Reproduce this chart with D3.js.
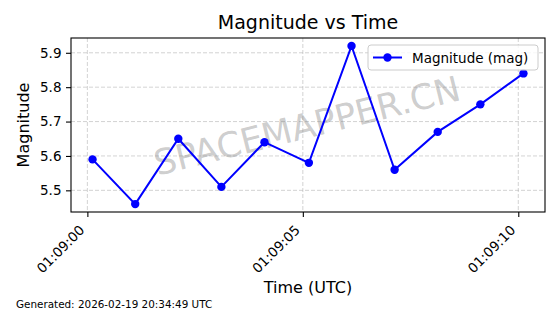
<!DOCTYPE html>
<html>
<head>
<meta charset="utf-8">
<script src="https://cdn.jsdelivr.net/npm/d3@7"></script>
<style>
  body { margin: 0; background: #fff; }
  text { font-family: "DejaVu Sans", sans-serif; }
</style>
</head>
<body>
<div id="chart"></div>
<script>
const WIDTH = 560;
const HEIGHT = 314;
const M = { left: 71, right: 15, top: 38, bottom: 102 };

// readings (UTC)
const times = [
  "2026-02-19T01:09:00.120Z", "2026-02-19T01:09:01.110Z", "2026-02-19T01:09:02.110Z",
  "2026-02-19T01:09:03.110Z", "2026-02-19T01:09:04.110Z", "2026-02-19T01:09:05.140Z",
  "2026-02-19T01:09:06.130Z", "2026-02-19T01:09:07.130Z", "2026-02-19T01:09:08.130Z",
  "2026-02-19T01:09:09.120Z", "2026-02-19T01:09:10.120Z"
];
const magnitudes = [5.59, 5.46, 5.65, 5.51, 5.64, 5.58, 5.92, 5.56, 5.67, 5.75, 5.84];
const xTicks = ["2026-02-19T01:09:00Z", "2026-02-19T01:09:05Z", "2026-02-19T01:09:10Z"];
const yTicks = [5.5, 5.6, 5.7, 5.8, 5.9];

const data = times.map((t, i) => ({ t: new Date(t), v: magnitudes[i] }));

const svg = d3.select("#chart").append("svg")
  .attr("width", WIDTH)
  .attr("height", HEIGHT);

const innerW = WIDTH - M.left - M.right;
const innerH = HEIGHT - M.top - M.bottom;

// 5% padding like matplotlib
const tExt = d3.extent(data, d => +d.t);
const tPad = (tExt[1] - tExt[0]) * 0.05;
const vExt = d3.extent(data, d => d.v);
const vPad = (vExt[1] - vExt[0]) * 0.05;

const xScale = d3.scaleUtc()
  .domain([new Date(tExt[0] - tPad), new Date(tExt[1] + tPad)])
  .range([M.left, M.left + innerW]);
const yScale = d3.scaleLinear()
  .domain([vExt[0] - vPad, vExt[1] + vPad])
  .range([M.top + innerH, M.top]);

const xTickDates = xTicks.map(s => new Date(s));

// grid
svg.append("g")
  .selectAll("line")
  .data(yTicks)
  .enter().append("line")
  .attr("x1", M.left).attr("x2", M.left + innerW)
  .attr("y1", d => yScale(d)).attr("y2", d => yScale(d))
  .attr("stroke", "#b0b0b0").attr("stroke-opacity", 0.7)
  .attr("stroke-width", 0.8).attr("stroke-dasharray", "4,2");
svg.append("g")
  .selectAll("line")
  .data(xTickDates)
  .enter().append("line")
  .attr("x1", d => xScale(d)).attr("x2", d => xScale(d))
  .attr("y1", M.top).attr("y2", M.top + innerH)
  .attr("stroke", "#b0b0b0").attr("stroke-opacity", 0.7)
  .attr("stroke-width", 0.8).attr("stroke-dasharray", "4,2");

// watermark
svg.append("text")
  .attr("transform", `translate(${M.left + innerW / 2 - 1}, ${M.top + innerH / 2 + 1}) rotate(-14)`)
  .attr("text-anchor", "middle")
  .attr("dominant-baseline", "central")
  .style("font-size", "35px")
  .attr("fill", "#808080")
  .attr("fill-opacity", 0.4)
  .text("SPACEMAPPER.CN");

// axes
const fmt = d3.utcFormat("%H:%M:%S");
const xAxis = svg.append("g")
  .attr("transform", `translate(0, ${M.top + innerH})`)
  .call(d3.axisBottom(xScale).tickValues(xTickDates).tickSize(5).tickFormat(""));
xAxis.select(".domain").remove();
xAxis.selectAll("line").attr("stroke-width", 1.1);

svg.append("g")
  .selectAll("text")
  .data(xTickDates)
  .enter().append("text")
  .attr("transform", d => `translate(${xScale(d) - 5.5}, ${M.top + innerH + 15.5}) rotate(-45)`)
  .attr("text-anchor", "end")
  .attr("dominant-baseline", "central")
  .style("font-size", "13.5px")
  .attr("fill", "#000")
  .text(d => fmt(d));

const yAxis = svg.append("g")
  .attr("transform", `translate(${M.left}, 0)`)
  .call(d3.axisLeft(yScale).tickValues(yTicks).tickSize(5).tickPadding(4.5).tickFormat(d3.format(".1f")));
yAxis.select(".domain").remove();
yAxis.selectAll("line").attr("stroke-width", 1.1);
yAxis.selectAll("text")
  .style("font-size", "13.5px")
  .style("font-family", "DejaVu Sans")
  .attr("fill", "#000");

// frame
svg.append("rect")
  .attr("x", M.left).attr("y", M.top)
  .attr("width", innerW).attr("height", innerH)
  .attr("fill", "none").attr("stroke", "#000").attr("stroke-width", 1.1);

// series
const line = d3.line()
  .x(d => xScale(d.t))
  .y(d => yScale(d.v));
svg.append("path")
  .datum(data)
  .attr("d", line)
  .attr("fill", "none")
  .attr("stroke", "#0000ff")
  .attr("stroke-width", 2);
svg.append("g")
  .selectAll("circle")
  .data(data)
  .enter().append("circle")
  .attr("cx", d => xScale(d.t))
  .attr("cy", d => yScale(d.v))
  .attr("r", 4.2)
  .attr("fill", "#0000ff");

// legend
const lg = svg.append("g").attr("transform", "translate(368, 45)");
lg.append("rect")
  .attr("width", 170).attr("height", 25).attr("rx", 3)
  .attr("fill", "#fff").attr("fill-opacity", 0.8)
  .attr("stroke", "#cccccc").attr("stroke-width", 1);
lg.append("line")
  .attr("x1", 5).attr("x2", 34).attr("y1", 12.5).attr("y2", 12.5)
  .attr("stroke", "#0000ff").attr("stroke-width", 2);
lg.append("circle")
  .attr("cx", 19.5).attr("cy", 12.5).attr("r", 4.2).attr("fill", "#0000ff");
lg.append("text")
  .attr("x", 44).attr("y", 17.5)
  .style("font-size", "13.5px")
  .text("Magnitude (mag)");

// titles
svg.append("text")
  .attr("x", M.left + innerW / 2).attr("y", 28.5)
  .attr("text-anchor", "middle")
  .style("font-size", "19px")
  .text("Magnitude vs Time");

svg.append("text")
  .attr("x", M.left + innerW / 2).attr("y", 293)
  .attr("text-anchor", "middle")
  .style("font-size", "16px")
  .text("Time (UTC)");

svg.append("text")
  .attr("transform", `translate(28.5, ${M.top + innerH / 2}) rotate(-90)`)
  .attr("text-anchor", "middle")
  .style("font-size", "16px")
  .text("Magnitude");

svg.append("text")
  .attr("x", 16).attr("y", 308)
  .style("font-size", "10.4px")
  .text("Generated: 2026-02-19 20:34:49 UTC");
</script>
</body>
</html>
